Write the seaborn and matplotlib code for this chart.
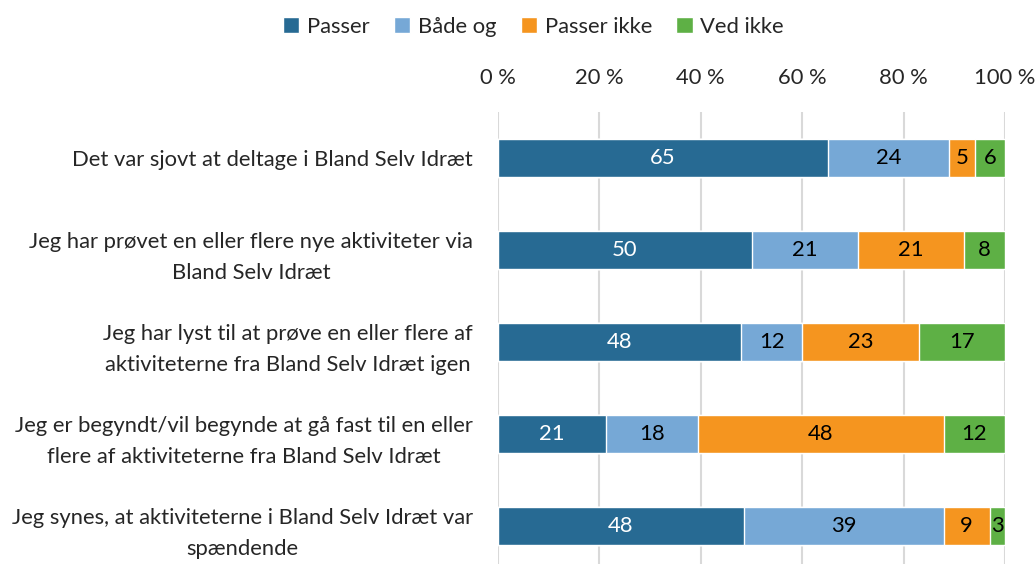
import numpy as np
import pandas as pd
import seaborn as sns
from matplotlib import pyplot as plt

# Data
statements = [
    'Det var sjovt at deltage i Bland Selv Idræt',
    'Jeg har prøvet en eller flere nye aktiviteter via\nBland Selv Idræt',
    'Jeg har lyst til at prøve en eller flere af\naktiviteterne fra Bland Selv Idræt igen',
    'Jeg er begyndt/vil begynde at gå fast til en eller\nflere af aktiviteterne fra Bland Selv Idræt',
    'Jeg synes, at aktiviteterne i Bland Selv Idræt var\nspændende',
]
categories = ['Passer', 'Både og', 'Passer ikke', 'Ved ikke']
passer = [65, 50, 48, 21, 48]
baade_og = [24, 21, 12, 18, 39]
passer_ikke = [5, 21, 23, 48, 9]
ved_ikke = [6, 8, 17, 12, 3]
colors = ['#276A93', '#76A8D6', '#F5951F', '#5EB045']
text_colors = ['white', 'black', 'black', 'black']

sns.set_style('white')
plt.rcParams['font.family'] = ['Lato', 'DejaVu Sans']
fs = 15.8

values = np.array([passer, baade_og, passer_ikke, ved_ikke], dtype=float)
# 100 % stacked: scale each row so it fills the axis like the original
shares = values / values.sum(axis=0) * 100
cum = shares.cumsum(axis=0)

fig = plt.figure(figsize=(10.36, 5.64), dpi=100)
ax = fig.add_axes([498 / 1036, 0, 507 / 1036, 1 - 112 / 564])

# draw cumulative totals from the back so each segment shows
for i in range(len(categories) - 1, -1, -1):
    df = pd.DataFrame({'statement': statements, 'value': cum[i]})
    sns.barplot(data=df, x='value', y='statement', orient='h', color=colors[i],
                width=0.41, saturation=1, ax=ax, label=categories[i], zorder=2)

for i in range(len(categories)):
    for j in range(len(statements)):
        center = cum[i, j] - shares[i, j] / 2
        ax.text(center, j, f'{int(values[i, j])}', ha='center', va='center',
                fontsize=fs, color=text_colors[i], zorder=3)

ax.set_xlim(0, 100)
ax.set_ylim(4.413, -0.5)
ax.set_xticks(range(0, 101, 20))
ax.set_xticklabels([f'{t} %' for t in range(0, 101, 20)])
ax.xaxis.tick_top()
ax.tick_params(axis='x', length=0, labelsize=fs, pad=17)
ax.tick_params(axis='y', length=0, labelsize=fs, pad=18)
for lbl in ax.get_yticklabels():
    lbl.set_multialignment('center')
    lbl.set_linespacing(1.7)
ax.set_xlabel('')
ax.set_ylabel('')
ax.grid(axis='x', color='#D9D9D9', linewidth=1.5, zorder=0)
ax.set_axisbelow(True)
for s in ax.spines.values():
    s.set_visible(False)

handles, labels = ax.get_legend_handles_labels()
order = [labels.index(c) for c in categories]
if ax.legend_:
    ax.legend_.remove()
fig.legend([handles[k] for k in order], categories, loc='upper center',
           bbox_to_anchor=(0.515, 1.005), ncol=4, frameon=False, fontsize=fs,
           handlelength=0.75, handleheight=0.75, handletextpad=0.35, columnspacing=1.1)

fig.savefig('out.png', dpi=100)
